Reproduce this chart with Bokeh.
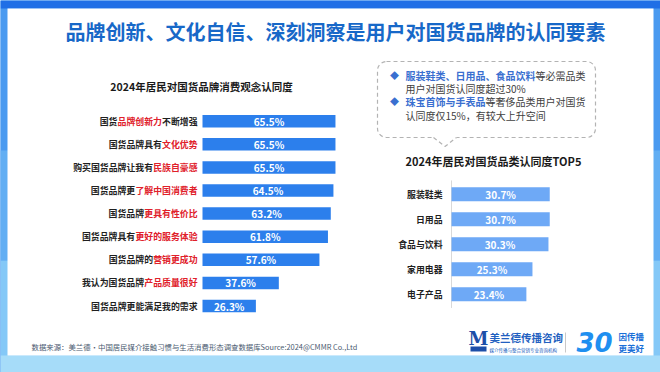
from bokeh.plotting import figure
from bokeh.models import Range1d, ColumnDataSource
from bokeh.core.properties import value
from bokeh.embed import file_html
from bokeh.resources import INLINE

# ---------------- data ----------------
title = "品牌创新、文化自信、深刻洞察是用户对国货品牌的认同要素"
left_title = "2024年居民对国货品牌消费观念认同度"
left_pre = ["国货", "国货品牌具有", "购买国货品牌让我有", "国货品牌更", "国货品牌",
            "国货品牌具有", "国货品牌的", "我认为国货品牌", "国货品牌更能满足我的需求"]
left_red = ["品牌创新力", "文化优势", "民族自豪感", "了解中国消费者", "更具有性价比",
            "更好的服务体验", "营销更成功", "产品质量很好", ""]
left_post = ["不断增强", "", "", "", "", "", "", "", ""]
left_values = [65.5, 65.5, 65.5, 64.5, 63.2, 61.8, 57.6, 37.6, 26.3]

right_title = "2024年居民对国货品类认同度TOP5"
right_cats = ["服装鞋类", "日用品", "食品与饮料", "家用电器", "电子产品"]
right_values = [30.7, 30.7, 30.3, 25.3, 23.4]

note_blue = ["服装鞋类、日用品、食品饮料", "", "珠宝首饰与手表品", ""]
note_gray = ["等必需品类", "用户对国货认同度超过30%", "等奢侈品类用户对国货", "认同度仅15%，有较大上升空间"]
source_text = "数据来源：美兰德•中国居民媒介接触习惯与生活消费形态调查数据库Source:2024@CMMR Co.,Ltd"

FONT = value("Noto Sans CJK SC")
W, H = 660, 372

# ---------------- figure (coordinates = reference pixels) ----------------
p = figure(width=W, height=H, x_range=Range1d(0, W), y_range=Range1d(H, 0),
           output_backend="svg", toolbar_location=None, min_border=0,
           x_axis_location=None, y_axis_location=None)
p.grid.visible = False
p.outline_line_color = None
p.background_fill_color = "#3f8ff0"
p.border_fill_color = "#3f8ff0"

# scales of the two bar charts
lpx, l0 = 2.03, 202.0        # px per %, zero position
lc, ls = 120.7, 23.1         # first row centre, row step
rpx, r0 = 3.2, 451.0
rc, rs = 193.7, 25.0
p.extra_x_ranges = {
    "lx": Range1d((0 - l0) / lpx, (W - l0) / lpx),
    "rx": Range1d((0 - r0) / rpx, (W - r0) / rpx),
}
p.extra_y_ranges = {
    "ly": Range1d((H - lc) / ls, (0 - lc) / ls),
    "ry": Range1d((H - rc) / rs, (0 - rc) / rs),
}

# frame
p.quad(left=0, right=W, top=0, bottom=H, fill_color="#4a9af0", line_color=None)
p.quad(left=0, right=W, top=0, bottom=8, fill_color="#1f6fe6", line_color=None)
p.quad(left=0, right=W, top=150, bottom=260, fill_color="#62aef3", line_color=None)
p.quad(left=0, right=W, top=260, bottom=H, fill_color="#84c8f7", line_color=None)
p.quad(left=0, right=W, top=355, bottom=H, fill_color="#a6dcf9", line_color=None)
p.quad(left=7, right=653, top=8, bottom=355, fill_color="white", line_color=None)

# main title
p.text(x=[335], y=[31], text=[title], text_font=FONT, text_font_style="bold",
       text_font_size="20px", text_color="#1768c8", text_align="center", text_baseline="middle")

# ---------------- left chart ----------------
p.text(x=[201], y=[86], text=[left_title], text_font=FONT, text_font_style="bold",
       text_font_size="10.5px", text_color="#1a1a1a", text_align="center", text_baseline="middle")

n = len(left_values)
idx = list(range(n))
lsrc = ColumnDataSource(dict(i=idx, v=left_values, half=[v / 2 for v in left_values],
                             lab=[f"{v:.1f}%" for v in left_values]))
p.hbar(y="i", left=0, right="v", height=0.54, source=lsrc, fill_color="#2c7fec",
       line_color=None, x_range_name="lx", y_range_name="ly")
p.text(x="half", y="i", text="lab", source=lsrc, text_font=FONT, text_font_style="bold",
       text_font_size="10px", text_color="white", text_align="center", text_baseline="middle",
       x_range_name="lx", y_range_name="ly")

fs, gap = 8.9, 5
post_src = ColumnDataSource(dict(x=[0] * n, i=idx, t=left_post, xo=[-gap] * n))
red_src = ColumnDataSource(dict(x=[0] * n, i=idx, t=left_red,
                                xo=[-gap - len(a) * fs for a in left_post]))
pre_src = ColumnDataSource(dict(x=[0] * n, i=idx, t=left_pre,
                                xo=[-gap - (len(a) + len(b)) * fs for a, b in zip(left_post, left_red)]))
for src, col in ((post_src, "#1f1f1f"), (red_src, "#e0202a"), (pre_src, "#1f1f1f")):
    p.text(x="x", y="i", text="t", x_offset="xo", source=src, text_font=FONT,
           text_font_style="bold", text_font_size=f"{fs}px", text_color=col,
           text_align="right", text_baseline="middle", x_range_name="lx", y_range_name="ly")

# ---------------- right chart ----------------
p.text(x=[493], y=[160], text=[right_title], text_font=FONT, text_font_style="bold",
       text_font_size="11px", text_color="#1a1a1a", text_align="center", text_baseline="middle")
m = len(right_values)
ridx = list(range(m))
rsrc = ColumnDataSource(dict(i=ridx, v=right_values, half=[v / 2 for v in right_values],
                             lab=[f"{v:.1f}%" for v in right_values], c=right_cats,
                             x0=[0] * m))
p.segment(x0=[0], x1=[0], y0=[-0.55], y1=[m - 0.45], line_color="#d9d9d9", line_width=1,
          x_range_name="rx", y_range_name="ry")
p.hbar(y="i", left=0, right="v", height=0.56, source=rsrc, fill_color="#6ea9f6",
       line_color=None, x_range_name="rx", y_range_name="ry")
p.text(x="half", y="i", text="lab", source=rsrc, text_font=FONT, text_font_style="bold",
       text_font_size="10px", text_color="white", text_align="center", text_baseline="middle",
       x_range_name="rx", y_range_name="ry")
p.text(x="x0", y="i", text="c", source=rsrc, x_offset=-9, text_font=FONT,
       text_font_style="bold", text_font_size="8.9px", text_color="#1f1f1f",
       text_align="right", text_baseline="middle", x_range_name="rx", y_range_name="ry")

# ---------------- callout ----------------
p.quad(left=377, right=595, top=61, bottom=137, fill_color="white", line_color="#b3b3b3",
       line_dash="4 3", line_width=1.2, border_radius=9)
p.quad(left=433, right=456, top=134, bottom=140, fill_color="white", line_color=None)
p.line(x=[433, 444.5, 456], y=[137, 146, 137], line_color="#b3b3b3", line_dash="4 3",
       line_width=1.2)
ly = [74.5, 88, 101, 115]
bfs = 10
p.text(x=[394, 394], y=[ly[0], ly[2]], text=["◆", "◆"], text_font=FONT,
       text_font_size="9px", text_color="#3a6fd0", text_align="center", text_baseline="middle")
p.text(x=[405] * 4, y=ly, text=note_blue, text_font=FONT, text_font_style="bold",
       text_font_size=f"{bfs}px", text_color="#3a6fd0", text_align="left", text_baseline="middle")
p.text(x=[405 + len(b) * bfs for b in note_blue], y=ly, text=note_gray, text_font=FONT,
       text_font_size=f"{bfs}px", text_color="#404040", text_align="left", text_baseline="middle")

# ---------------- footer ----------------
p.text(x=[31], y=[346], text=[source_text], text_font=FONT, text_font_size="7.4px",
       text_color="#4a5a70", text_align="left", text_baseline="middle")

# logos
p.text(x=[478], y=[338], text=["M"], text_font=value("DejaVu Serif"), text_font_style="bold",
       text_font_size="18px", text_color="#1d4fa8", text_align="center", text_baseline="middle")
p.quad(left=470, right=486, top=346, bottom=351, fill_color="#1d4fa8", line_color=None)
p.text(x=[489], y=[337], text=["美兰德传播咨询"], text_font=FONT, text_font_style="bold",
       text_font_size="10.5px", text_color="#2260c0", text_align="left", text_baseline="middle")
p.text(x=[489], y=[349], text=["媒介传播与整合营销专业咨询机构"], text_font=FONT,
       text_font_size="4.5px", text_color="#2260c0", text_align="left", text_baseline="middle")
p.segment(x0=[565], x1=[565], y0=[332], y1=[352], line_color="#c8c8c8", line_width=1)
p.text(x=[594], y=[341], text=["30"], text_font=value("DejaVu Sans"), text_font_style="bold italic",
       text_font_size="26px", text_color="#1f8ff0", text_align="center", text_baseline="middle")
p.text(x=[618, 618], y=[335, 347], text=["因传播", "更美好"], text_font=FONT,
       text_font_style="bold", text_font_size="8.5px", text_color="#1a6fd8",
       text_align="left", text_baseline="middle")

open("out.html", "w").write(file_html(p, INLINE))
